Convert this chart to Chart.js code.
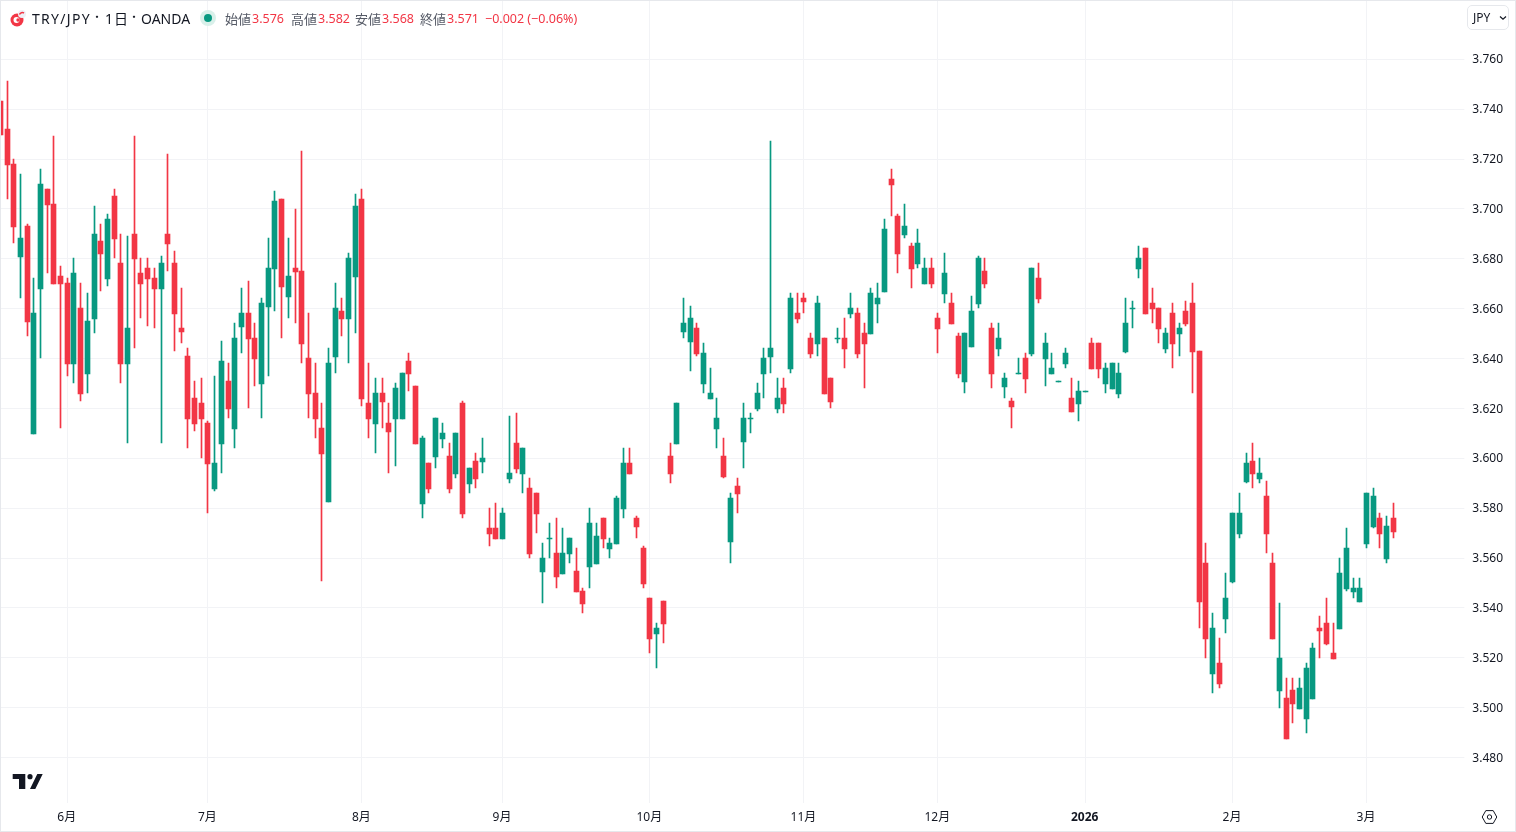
<!DOCTYPE html>
<html lang="ja">
<head>
<meta charset="utf-8">
<title>TRY/JPY</title>
<script src="https://cdn.jsdelivr.net/npm/chart.js@4"></script>
<style>
	html, body { margin: 0; padding: 0; background: #fff; }
	#wrap { position: relative; width: 1516px; height: 832px; overflow: hidden; font-family: "Noto Sans", "Noto Sans CJK JP", sans-serif; color: #131722; }
	#wrap canvas { position: absolute; left: 0; top: 0; }
	#frame { position: absolute; left: 0; top: 0; width: 1514px; height: 830px; border: 1px solid #e6e8ec; pointer-events: none; }
	.t { position: absolute; top: 10px; height: 18px; line-height: 18px; white-space: nowrap; }
	.lbl { font-size: 13px; color: #555a66; }
	.val { font-size: 12.5px; color: #f23645; }
	.sym { font-size: 14px; }
	#cur { position: absolute; left: 1467px; top: 5px; width: 42px; height: 25px; box-sizing: border-box; border: 1px solid #e6e8ec; border-radius: 5px; font-size: 12px; line-height: 23px; padding-left: 5px; }
	svg { position: absolute; }
</style>
</head>
<body>
<div id="wrap">
	<canvas id="myChart" width="1516" height="832"></canvas>
	<div id="frame"></div>

	<svg style="left:8px;top:8px" width="20" height="22" viewBox="0 0 20 22">
		<circle cx="9" cy="12" r="6.5" fill="#f23645"/>
		<circle cx="8.5" cy="12" r="3" fill="#fff"/>
		<circle cx="10" cy="12" r="1.7" fill="#f23645"/>
		<circle cx="14" cy="6" r="4" fill="#eef0f6"/>
		<path d="M11.5 6.5 A3 3 0 0 1 16 5" stroke="#f23645" stroke-width="1.6" fill="none"/>
	</svg>
	<span class="t sym" style="left:32px;letter-spacing:1.3px">TRY/JPY</span>
	<span class="t sym" style="left:91.5px;top:8px;font-size:11px">・</span>
	<span class="t sym" style="left:105px;letter-spacing:1px">1日</span>
	<span class="t sym" style="left:128.5px;top:8px;font-size:11px">・</span>
	<span class="t sym" style="left:141px">OANDA</span>
	<svg style="left:199px;top:9px" width="18" height="18" viewBox="0 0 18 18">
		<circle cx="9" cy="9" r="8" fill="#d9f0ea"/>
		<circle cx="9" cy="9" r="4" fill="#089981"/>
	</svg>
	<span class="t lbl" style="left:225px">始値</span><span class="t val" style="left:252px">3.576</span>
	<span class="t lbl" style="left:291px">高値</span><span class="t val" style="left:318px">3.582</span>
	<span class="t lbl" style="left:355px">安値</span><span class="t val" style="left:382px">3.568</span>
	<span class="t lbl" style="left:420px">終値</span><span class="t val" style="left:447px">3.571</span>
	<span class="t val" style="left:485px">−0.002 (−0.06%)</span>

	<div id="cur">JPY</div>
	<svg style="left:1498px;top:15px" width="10" height="6" viewBox="0 0 10 6">
		<path d="M2 1.5 L5 4.2 L8 1.5" stroke="#131722" stroke-width="1.2" fill="none"/>
	</svg>

	<svg style="left:12px;top:773px" width="32" height="17" viewBox="0 0 32 17">
		<path d="M0.7 1 H13.3 V16 H7 V6 H0.7 Z M25.3 1 H30.7 L23.3 16 H18 Z" fill="#131722"/>
		<circle cx="18" cy="3.7" r="2.6" fill="#131722"/>
	</svg>
	<svg style="left:1481px;top:809px" width="17" height="16" viewBox="0 0 17 16">
		<path d="M1.2 8 L4.8 1.6 H12.2 L15.8 8 L12.2 14.4 H4.8 Z" stroke="#131722" stroke-width="1" fill="none"/>
		<circle cx="8.5" cy="8" r="2.2" stroke="#131722" stroke-width="1" fill="none"/>
	</svg>
</div>

<script>
const opens = [
	3.7434, 3.7321, 3.7181, 3.6808, 3.6932, 3.6098, 3.6680, 3.7081, 3.7021, 3.6732,
	3.6704, 3.6379, 3.6603, 3.6339, 3.6559, 3.6872, 3.6720, 3.7053, 3.6784, 3.6379,
	3.6900, 3.6744, 3.6764, 3.6724, 3.6680, 3.6900, 3.6784, 3.6523, 3.6411, 3.6242,
	3.6222, 3.6142, 3.5877, 3.6058, 3.6311, 3.6118, 3.6527, 3.6583, 3.6483, 3.6298,
	3.6607, 3.6760, 3.7040, 3.6647, 3.6764, 3.6752, 3.6403, 3.6262, 3.6122, 3.5825,
	3.6407, 3.6591, 3.6559, 3.6728, 3.7040, 3.6222, 3.6138, 3.6262, 3.6142, 3.6158,
	3.6158, 3.6391, 3.6290, 3.5817, 3.5981, 3.6006, 3.6078, 3.6010, 3.5937, 3.6222,
	3.5897, 3.5989, 3.5985, 3.5720, 3.5720, 3.5676, 3.5917, 3.6061, 3.5937, 3.5881,
	3.5861, 3.5544, 3.5676, 3.5620, 3.5536, 3.5616, 3.5548, 3.5468, 3.5564, 3.5576,
	3.5761, 3.5636, 3.5656, 3.5797, 3.5981, 3.5761, 3.5640, 3.5440, 3.5295, 3.5428,
	3.6009, 3.6057, 3.6507, 3.6467, 3.6523, 3.6298, 3.6238, 3.6118, 3.6009, 3.5665,
	3.5889, 3.6066, 3.6158, 3.6198, 3.6338, 3.6407, 3.6198, 3.6282, 3.6358, 3.6583,
	3.6643, 3.6483, 3.6459, 3.6483, 3.6322, 3.6479, 3.6483, 3.6579, 3.6583, 3.6503,
	3.6499, 3.6619, 3.6667, 3.7120, 3.6972, 3.6896, 3.6852, 3.6780, 3.6700, 3.6764,
	3.6563, 3.6660, 3.6623, 3.6491, 3.6307, 3.6447, 3.6619, 3.6752, 3.6523, 3.6439,
	3.6287, 3.6230, 3.6339, 3.6403, 3.6419, 3.6724, 3.6399, 3.6339, 3.6307, 3.6379,
	3.6242, 3.6218, 3.6266, 3.6463, 3.6463, 3.6298, 3.6278, 3.6258, 3.6427, 3.6599,
	3.6760, 3.6844, 3.6623, 3.6603, 3.6439, 3.6583, 3.6499, 3.6591, 3.6623, 3.6431,
	3.5580, 3.5135, 3.5179, 3.5356, 3.5504, 3.5697, 3.5905, 3.5990, 3.5918, 3.5849,
	3.5581, 3.5067, 3.5039, 3.5071, 3.4995, 3.4955, 3.5035, 3.5320, 3.5340, 3.5220,
	3.5316, 3.5476, 3.5464, 3.5424, 3.5657, 3.5725, 3.5761, 3.5597, 3.5761
];
const closes = [
	3.7297, 3.7177, 3.6928, 3.6884, 3.6547, 3.6583, 3.7101, 3.7017, 3.6700, 3.6700,
	3.6379, 3.6744, 3.6258, 3.6551, 3.6900, 3.6820, 3.6960, 3.6880, 3.6379, 3.6523,
	3.6800, 3.6700, 3.6720, 3.6680, 3.6784, 3.6860, 3.6579, 3.6507, 3.6158, 3.6138,
	3.6158, 3.5978, 3.5982, 3.6391, 3.6198, 3.6483, 3.6583, 3.6479, 3.6399, 3.6623,
	3.6764, 3.7032, 3.6687, 3.6732, 3.6748, 3.6459, 3.6258, 3.6158, 3.6018, 3.6383,
	3.6603, 3.6559, 3.6804, 3.7012, 3.6238, 3.6158, 3.6262, 3.6226, 3.6106, 3.6282,
	3.6342, 3.6338, 3.6058, 3.6082, 3.5877, 3.6162, 3.6102, 3.5877, 3.6102, 3.5777,
	3.5961, 3.5917, 3.6001, 3.5696, 3.5676, 3.5781, 3.5941, 3.5957, 3.6041, 3.5616,
	3.5777, 3.5600, 3.5680, 3.5524, 3.5620, 3.5680, 3.5464, 3.5416, 3.5741, 3.5688,
	3.5676, 3.5660, 3.5841, 3.5981, 3.5937, 3.5725, 3.5496, 3.5275, 3.5319, 3.5335,
	3.5937, 3.6222, 3.6543, 3.6563, 3.6419, 3.6423, 3.6262, 3.6162, 3.5925, 3.5841,
	3.5857, 3.6162, 3.6162, 3.6262, 3.6403, 3.6443, 3.6242, 3.6218, 3.6643, 3.6559,
	3.6627, 3.6419, 3.6623, 3.6258, 3.6226, 3.6483, 3.6439, 3.6603, 3.6419, 3.6459,
	3.6663, 3.6643, 3.6920, 3.7096, 3.6820, 3.6932, 3.6760, 3.6864, 3.6764, 3.6700,
	3.6519, 3.6744, 3.6539, 3.6339, 3.6503, 3.6591, 3.6804, 3.6700, 3.6339, 3.6483,
	3.6323, 3.6206, 3.6343, 3.6319, 3.6764, 3.6640, 3.6463, 3.6363, 3.6311, 3.6423,
	3.6186, 3.6270, 3.6270, 3.6359, 3.6359, 3.6363, 3.6383, 3.6343, 3.6543, 3.6603,
	3.6804, 3.6579, 3.6599, 3.6519, 3.6503, 3.6459, 3.6523, 3.6539, 3.6427, 3.5424,
	3.5276, 3.5320, 3.5095, 3.5440, 3.5781, 3.5781, 3.5982, 3.5938, 3.5942, 3.5697,
	3.5276, 3.5200, 3.4875, 3.5015, 3.5079, 3.5160, 3.5240, 3.5308, 3.5256, 3.5196,
	3.5541, 3.5641, 3.5480, 3.5480, 3.5861, 3.5849, 3.5697, 3.5729, 3.5705
];
const highs = [
	3.7434, 3.7514, 3.7201, 3.7141, 3.6940, 3.6724, 3.7161, 3.7081, 3.7293, 3.6772,
	3.6724, 3.6804, 3.6704, 3.6664, 3.7013, 3.6940, 3.6980, 3.7081, 3.6900, 3.6892,
	3.7293, 3.6804, 3.6804, 3.6764, 3.6812, 3.7221, 3.6832, 3.6684, 3.6443, 3.6311,
	3.6323, 3.6150, 3.6331, 3.6471, 3.6383, 3.6543, 3.6683, 3.6711, 3.6543, 3.6643,
	3.6884, 3.7072, 3.7040, 3.6884, 3.7000, 3.7233, 3.6583, 3.6383, 3.6222, 3.6443,
	3.6703, 3.6643, 3.6824, 3.7060, 3.7080, 3.6383, 3.6322, 3.6322, 3.6222, 3.6302,
	3.6342, 3.6423, 3.6290, 3.6090, 3.5981, 3.6162, 3.6142, 3.6062, 3.6102, 3.6230,
	3.5961, 3.6021, 3.6081, 3.5801, 3.5821, 3.5801, 3.6170, 3.6182, 3.6041, 3.5921,
	3.5861, 3.5660, 3.5741, 3.5761, 3.5720, 3.5680, 3.5640, 3.5480, 3.5801, 3.5741,
	3.5761, 3.5680, 3.5849, 3.6041, 3.6041, 3.5769, 3.5648, 3.5440, 3.5339, 3.5428,
	3.6061, 3.6222, 3.6643, 3.6611, 3.6543, 3.6463, 3.6362, 3.6242, 3.6082, 3.5861,
	3.5921, 3.6222, 3.6182, 3.6302, 3.6443, 3.7273, 3.6322, 3.6322, 3.6663, 3.6663,
	3.6663, 3.6503, 3.6651, 3.6483, 3.6322, 3.6523, 3.6563, 3.6663, 3.6603, 3.6543,
	3.6683, 3.6703, 3.6960, 3.7161, 3.6980, 3.7021, 3.6864, 3.6920, 3.6804, 3.6804,
	3.6583, 3.6824, 3.6664, 3.6503, 3.6503, 3.6652, 3.6812, 3.6804, 3.6543, 3.6543,
	3.6343, 3.6242, 3.6403, 3.6423, 3.6764, 3.6784, 3.6503, 3.6423, 3.6311, 3.6443,
	3.6323, 3.6311, 3.6270, 3.6483, 3.6463, 3.6383, 3.6383, 3.6383, 3.6643, 3.6631,
	3.6852, 3.6844, 3.6684, 3.6603, 3.6523, 3.6623, 3.6543, 3.6631, 3.6704, 3.6431,
	3.5661, 3.5380, 3.5280, 3.5540, 3.5781, 3.5861, 3.6022, 3.6062, 3.6002, 3.5910,
	3.5621, 3.5420, 3.5119, 3.5119, 3.5119, 3.5180, 3.5260, 3.5368, 3.5440, 3.5340,
	3.5601, 3.5721, 3.5520, 3.5520, 3.5861, 3.5881, 3.5781, 3.5769, 3.5821
];
const lows = [
	3.7297, 3.7041, 3.6864, 3.6644, 3.6491, 3.6098, 3.6403, 3.6744, 3.6700, 3.6122,
	3.6331, 3.6303, 3.6230, 3.6262, 3.6503, 3.6672, 3.6692, 3.6804, 3.6303, 3.6062,
	3.6443, 3.6563, 3.6531, 3.6523, 3.6062, 3.6752, 3.6431, 3.6463, 3.6042, 3.6110,
	3.6002, 3.5781, 3.5869, 3.5942, 3.6162, 3.6042, 3.6423, 3.6202, 3.6290, 3.6162,
	3.6330, 3.6591, 3.6483, 3.6563, 3.6543, 3.6383, 3.6162, 3.6082, 3.5508, 3.5825,
	3.6342, 3.6491, 3.6383, 3.6503, 3.6210, 3.6082, 3.6022, 3.6122, 3.5941, 3.5969,
	3.6158, 3.6270, 3.6058, 3.5761, 3.5861, 3.5961, 3.6042, 3.5861, 3.5921, 3.5761,
	3.5861, 3.5881, 3.5941, 3.5648, 3.5676, 3.5676, 3.5901, 3.5941, 3.5861, 3.5600,
	3.5700, 3.5420, 3.5600, 3.5480, 3.5536, 3.5580, 3.5464, 3.5380, 3.5480, 3.5576,
	3.5640, 3.5600, 3.5656, 3.5761, 3.5937, 3.5680, 3.5480, 3.5219, 3.5159, 3.5259,
	3.5901, 3.6057, 3.6483, 3.6350, 3.6411, 3.6262, 3.6238, 3.6042, 3.5921, 3.5580,
	3.5781, 3.5961, 3.6102, 3.6190, 3.6242, 3.6342, 3.6182, 3.6182, 3.6342, 3.6543,
	3.6583, 3.6403, 3.6411, 3.6258, 3.6202, 3.6463, 3.6362, 3.6563, 3.6403, 3.6282,
	3.6499, 3.6543, 3.6667, 3.6972, 3.6743, 3.6884, 3.6684, 3.6764, 3.6700, 3.6684,
	3.6423, 3.6623, 3.6539, 3.6323, 3.6262, 3.6447, 3.6603, 3.6684, 3.6283, 3.6411,
	3.6242, 3.6122, 3.6339, 3.6262, 3.6411, 3.6623, 3.6291, 3.6339, 3.6307, 3.6363,
	3.6186, 3.6150, 3.6266, 3.6359, 3.6323, 3.6262, 3.6278, 3.6242, 3.6423, 3.6523,
	3.6724, 3.6579, 3.6543, 3.6463, 3.6423, 3.6363, 3.6411, 3.6531, 3.6262, 3.5320,
	3.5199, 3.5059, 3.5079, 3.5300, 3.5500, 3.5681, 3.5901, 3.5882, 3.5902, 3.5621,
	3.5276, 3.4999, 3.4875, 3.4939, 3.4995, 3.4899, 3.5035, 3.5200, 3.5252, 3.5196,
	3.5316, 3.5468, 3.5440, 3.5424, 3.5641, 3.5721, 3.5641, 3.5581, 3.5681
];

// first session of each month, counted in candles
const monthIndex = [10, 31, 54, 75, 97, 120, 140, 162, 184, 204];
const monthLabels = ['6月', '7月', '8月', '9月', '10月', '11月', '12月', '2026', '2月', '3月'];
const priceTicks = [3.48, 3.5, 3.52, 3.54, 3.56, 3.58, 3.6, 3.62, 3.64, 3.66, 3.68, 3.7, 3.72, 3.74, 3.76];

const UP = '#089981';
const DOWN = '#f23645';
const GRID = '#f2f3f6';
const FONT = '"Noto Sans", "Noto Sans CJK JP", sans-serif';
const SLOTS = 219; // empty room to the right of the last candle

let labels = new Array(SLOTS).fill('');
monthIndex.forEach((idx, i) => { labels[idx] = monthLabels[i]; });

let colors = opens.map((o, i) => closes[i] >= o ? UP : DOWN);

// keeps bars on whole pixels, the reference has no blurred candles
const snapBars = {
	id: 'snapBars',
	afterDatasetsUpdate(chart) {
		chart.data.datasets.forEach((ds, d) => {
			chart.getDatasetMeta(d).data.forEach(bar => {
				bar.x = Math.floor(bar.x) + 0.5;
				bar.y = Math.round(bar.y);
				bar.base = Math.round(bar.base);
				if (bar.base === bar.y) bar.base = bar.y + 1;
			});
		});
	}
};

let ctx = document.getElementById('myChart').getContext('2d');
let myChart = new Chart(ctx, {
	type: 'bar',
	plugins: [snapBars],
	data: {
		labels: labels,
		datasets: [
			{
				label: 'wick',
				data: lows.map((l, i) => [l, highs[i]]),
				backgroundColor: colors,
				barThickness: 1,
				grouped: false,
				order: 2
			},
			{
				label: 'body',
				data: opens.map((o, i) => [o, closes[i]]),
				backgroundColor: colors,
				barThickness: 5,
				grouped: false,
				order: 1
			}
		]
	},
	options: {
		responsive: false,
		devicePixelRatio: 1,
		animation: false,
		layout: { padding: { left: 0.33, top: 1, right: 0, bottom: 0 } },
		plugins: { legend: { display: false }, tooltip: { enabled: false } },
		scales: {
			x: {
				type: 'category',
				offset: false,
				border: { display: false },
				grid: { offset: false, color: GRID, drawTicks: false, lineWidth: 1 },
				ticks: {
					autoSkip: false,
					maxRotation: 0,
					minRotation: 0,
					padding: 7,
					labelOffset: -0.6,
					color: '#131722',
					font: c => ({ family: FONT, size: 12, weight: c.tick && c.tick.label === '2026' ? 'bold' : 'normal' }),
					callback: function (value) {
						let text = this.getLabelForValue(value);
						return text === '' ? null : text;
					}
				},
				afterFit: scale => {
					scale.height = 29;
					scale.paddingLeft = 0;
					scale.paddingRight = 0;
				}
			},
			y: {
				position: 'right',
				min: 3.4618,
				max: 3.7834,
				border: { display: false },
				grid: { color: GRID, tickColor: GRID, tickLength: 4, lineWidth: 1 },
				ticks: {
					padding: 8,
					labelOffset: 0.6,
					color: '#131722',
					font: { family: FONT, size: 12 },
					callback: value => value.toFixed(3)
				},
				afterBuildTicks: scale => {
					scale.ticks = priceTicks.map(v => ({ value: v }));
				},
				afterFit: scale => {
					scale.width = 55.67;
					scale.paddingTop = 0;
					scale.paddingBottom = 0;
				}
			}
		}
	}
});
</script>
</body>
</html>
